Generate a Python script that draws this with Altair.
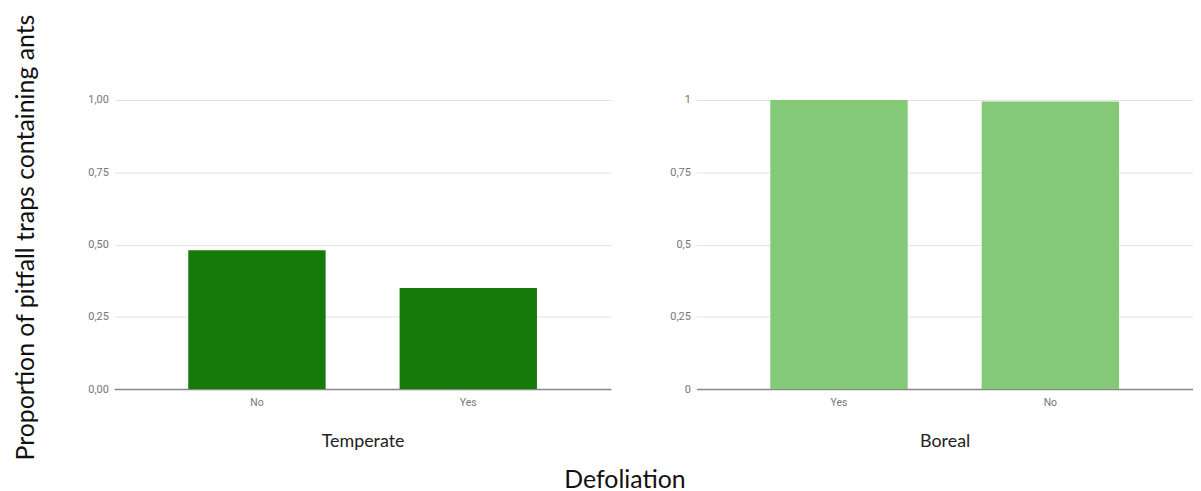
import altair as alt
import pandas as pd

temperate_cats = ["No", "Yes"]
temperate_vals = [0.48, 0.35]
boreal_cats = ["Yes", "No"]
boreal_vals = [1.0, 0.995]
y_ticks = [0, 0.25, 0.5, 0.75, 1.0]

df_t = pd.DataFrame({"Defoliation": temperate_cats, "Proportion": temperate_vals})
df_b = pd.DataFrame({"Defoliation": boreal_cats, "Proportion": boreal_vals})

TITLE_FONT = "Lato"
LABEL_FONT = "Roboto"

def panel(df, cats, color, title, label_expr, ytitle):
    yaxis_kwargs = dict(values=y_ticks, labelExpr=label_expr, title=ytitle,
                        labelFont=LABEL_FONT, labelFontSize=11, labelColor="#757575",
                        labelPadding=6, ticks=False, domain=False,
                        gridColor="#e2e2e2", gridWidth=1,
                        titleFont=TITLE_FONT, titleFontSize=25, titleFontWeight="normal",
                        titleColor="#111111", titlePadding=50)
    if ytitle:
        yaxis_kwargs["titleY"] = 138
    return alt.Chart(df).mark_bar(color=color).encode(
        x=alt.X("Defoliation:N", sort=cats,
                scale=alt.Scale(paddingInner=0.35, paddingOuter=0.35),
                axis=alt.Axis(title=title, labelAngle=0, labelFont=LABEL_FONT, grid=False,
                              labelFontSize=10.5, labelColor="#757575", labelPadding=9,
                              ticks=False, domainColor="#888888", domainWidth=1.5,
                              titleFont=TITLE_FONT, titleFontSize=18, titleFontWeight="normal",
                              titleColor="#222222", titlePadding=24)),
        y=alt.Y("Proportion:Q", scale=alt.Scale(domain=[0, 1], nice=False),
                axis=alt.Axis(**yaxis_kwargs)),
    ).properties(width=500, height=291)

left = panel(df_t, temperate_cats, "#157a0a", "Temperate",
             "replace(format(datum.value, '.2f'), '.', ',')",
             "Proportion of pitfall traps containing ants")
right = panel(df_b, boreal_cats, "#83c977", "Boreal",
              "replace(format(datum.value, '~g'), '.', ',')", None)

chart = alt.hconcat(left, right, spacing=59).properties(
    title=alt.TitleParams("Defoliation", orient="bottom", fontSize=25, font=TITLE_FONT,
                          fontWeight="normal", color="#111111", anchor="middle",
                          offset=8, dx=22),
    padding={"left": 5, "top": 4, "right": 0, "bottom": 0},
    background="white",
).configure_view(strokeWidth=0, stroke="transparent").configure_axisX(grid=False)

chart.save("out.html", embed_options={"renderer": "svg", "actions": False})
